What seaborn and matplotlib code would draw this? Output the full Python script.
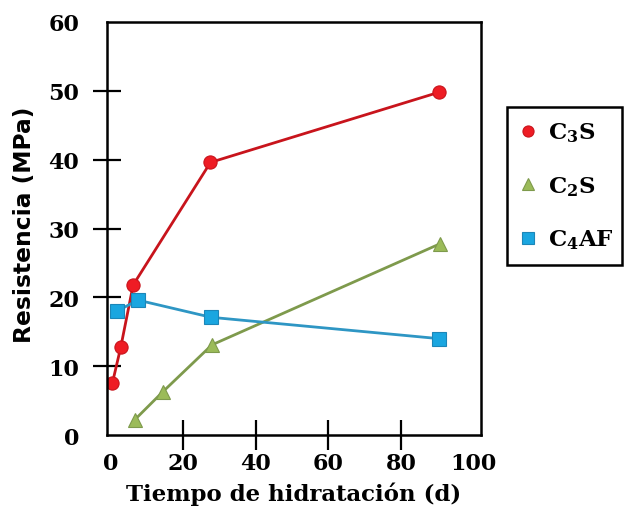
import seaborn as sns
import pandas as pd
import matplotlib.pyplot as plt
from matplotlib.lines import Line2D

sns.set_style('white')
plt.rcParams['font.family'] = ['DejaVu Serif']
plt.rcParams['font.weight'] = 'bold'
plt.rcParams['text.color'] = 'black'
plt.rcParams['axes.labelcolor'] = 'black'
plt.rcParams['xtick.color'] = 'black'
plt.rcParams['ytick.color'] = 'black'
plt.rcParams['mathtext.fontset'] = 'custom'
plt.rcParams['mathtext.rm'] = 'DejaVu Serif:bold'
plt.rcParams['mathtext.it'] = 'DejaVu Serif:bold'
plt.rcParams['mathtext.bf'] = 'DejaVu Serif:bold'

# datos
dias_c3s = [0.5, 2.8, 6.2, 27.5, 90.5]
res_c3s = [7.6, 12.8, 21.8, 39.6, 49.8]
dias_c2s = [6.6, 14.4, 27.9, 90.8]
res_c2s = [2.2, 6.3, 13.1, 27.8]
dias_c4af = [1.8, 7.5, 27.7, 90.5]
res_c4af = [18.0, 19.6, 17.1, 14.0]
etiquetas = [r'$\mathrm{C_3S}$', r'$\mathrm{C_2S}$', r'$\mathrm{C_4AF}$']

series = [
    (dias_c3s, res_c3s, 'o', '#ee1c24', '#c8141c', '#c8141c', 9.5),
    (dias_c2s, res_c2s, '^', '#9bbb59', '#7e9a4c', '#7e9a4c', 10),
    (dias_c4af, res_c4af, 's', '#1aa6e0', '#2e96c4', '#1c86b8', 9.5),
]

fig = plt.figure(figsize=(6.24, 5.10), dpi=100)
ax = fig.add_axes([0.1715, 0.145, 0.5993, 0.81])

handles = []
for (x, y, m, fc, lc, ec, ms), lab in zip(series, etiquetas):
    df = pd.DataFrame({'dias': x, 'res': y})
    sns.lineplot(data=df, x='dias', y='res', ax=ax, color=lc, lw=2,
                 marker=m, markersize=ms, markerfacecolor=fc,
                 markeredgecolor=ec, markeredgewidth=0.8)
    handles.append(Line2D([], [], ls='none', marker=m, markersize=8,
                          markerfacecolor=fc, markeredgecolor=ec,
                          markeredgewidth=0.8, label=lab))

ax.set_xlim(-1, 102)
ax.set_ylim(0, 60)
ax.set_xticks([0, 20, 40, 60, 80, 100])
ax.set_yticks([0, 10, 20, 30, 40, 50, 60])
ax.tick_params(bottom=True, left=True, direction='inout',
               width=1.6, labelsize=16, color='black', labelcolor='black')
ax.tick_params(axis='x', length=21, pad=2)
ax.tick_params(axis='y', length=20, pad=10)
# sin marcas en los extremos de los ejes
for axis in (ax.xaxis, ax.yaxis):
    ticks = axis.get_major_ticks()
    for t in (ticks[0], ticks[-1]):
        t.tick1line.set_visible(False)
for s in ax.spines.values():
    s.set_color('black')
    s.set_linewidth(1.8)
ax.set_xlabel('Tiempo de hidratación (d)', fontsize=16.5, fontweight='bold',
              color='black')
ax.set_ylabel('Resistencia (MPa)', fontsize=16.8, fontweight='bold',
              family='DejaVu Sans', color='black')
ax.xaxis.set_label_coords(0.5, -0.112)
ax.yaxis.set_label_coords(-0.19, 0.512)

leg = fig.legend(handles=handles, loc='upper left',
                 bbox_to_anchor=(0.8125, 0.788, 0.185, 0.0), mode='expand',
                 borderaxespad=0, fontsize=16.5, frameon=True, framealpha=1,
                 fancybox=False, edgecolor='black', labelspacing=1.3,
                 borderpad=0.6, handletextpad=0.6, handlelength=0.6)
leg.get_frame().set_linewidth(1.8)
for txt in leg.get_texts():
    txt.set_color('black')

fig.savefig('out.png', dpi=100)
